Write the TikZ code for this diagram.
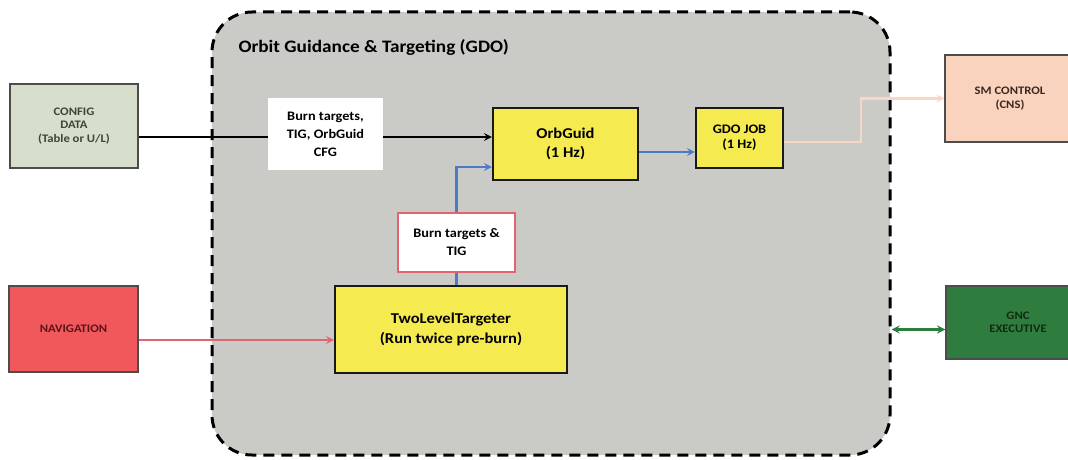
\documentclass[tikz,border=0pt]{standalone}
\usepackage{fontspec}
\setmainfont{Carlito}[FakeStretch=1.1]
\definecolor{gdogray}{RGB}{202,202,198}
\definecolor{jobyellow}{RGB}{245,234,80}
\definecolor{cfggreen}{RGB}{216,222,204}
\definecolor{navred}{RGB}{240,88,92}
\definecolor{navline}{RGB}{226,100,115}
\definecolor{smpeach}{RGB}{249,211,190}
\definecolor{smline}{RGB}{250,214,196}
\definecolor{gncgreen}{RGB}{46,125,62}
\definecolor{flowblue}{RGB}{80,120,200}
\begin{document}
\begin{tikzpicture}[x=1pt,y=-1pt,
  box/.style={draw=black!85, line width=1.8pt, align=center, font=\bfseries, inner sep=2pt},
  outbox/.style={box, draw=black!70, line width=1.5pt, font=\bfseries\fontsize{11.5}{13.5}\selectfont},
  jobbox/.style={box, fill=jobyellow, draw=black!90, line width=2.2pt},
  lblbox/.style={fill=white, align=center, font=\bfseries\fontsize{13}{18}\selectfont, inner sep=2pt},
  flow/.style={-stealth, line width=2.4pt}]
  \useasboundingbox (0,0) rectangle (1068,460);
  \clip (0,0) rectangle (1068,460);

  % GDO frame
  \node[draw, fill=gdogray, dashed, dash pattern=on 11pt off 7pt, line width=3pt,
        rounded corners=40pt, minimum width=678pt, minimum height=443pt] (gdo) at (551,233.5) {};
  \node[anchor=west, font=\bfseries\fontsize{17.5}{20}\selectfont] (title) at (235,47) {Orbit Guidance \& Targeting (GDO)};

  % outside blocks
  \node[outbox, fill=cfggreen, text={rgb,255:red,60;green,70;blue,50}, minimum width=128pt, minimum height=84pt] (config) at (74,126) {CONFIG\\DATA\\(Table or U/L)};
  \node[outbox, fill=navred, text={rgb,255:red,90;green,20;blue,25}, minimum width=129pt, minimum height=86pt] (nav) at (73.5,329) {NAVIGATION};
  \node[outbox, fill=smpeach, text={rgb,255:red,60;green,40;blue,30}, minimum width=130pt, minimum height=87pt] (smctrl) at (1010,98.5) {SM CONTROL\\(CNS)};
  \node[outbox, fill=gncgreen, text={rgb,255:red,20;green,40;blue,20}, minimum width=144pt, minimum height=73pt] (gnc) at (1018,322.5) {GNC\\EXECUTIVE};

  % jobs inside GDO
  \node[jobbox, font=\bfseries\fontsize{15}{19}\selectfont, minimum width=145pt, minimum height=72pt] (orbguid) at (565.5,144) {OrbGuid\\(1 Hz)};
  \node[jobbox, font=\bfseries\fontsize{13}{15}\selectfont, minimum width=87pt, minimum height=60pt] (gdojob) at (739.5,138) {GDO JOB\\(1 Hz)};
  \node[jobbox, font=\bfseries\fontsize{15}{20}\selectfont, minimum width=232pt, minimum height=87pt] (twolevel) at (451,329.5) {TwoLevelTargeter\\(Run twice pre-burn)};

  % connectors
  \draw[flow] ([yshift=-11pt]config.east) -- ([yshift=-11pt]config.east -| orbguid.west);
  \draw[flow, navline] ([yshift=-11pt]nav.east) -- ([yshift=-11pt]nav.east -| twolevel.west);
  \draw[flow, flowblue] (twolevel.north -| 456.5,0) |- ([yshift=-23pt]orbguid.west);
  \draw[flow, flowblue] ([yshift=-8pt]orbguid.east) -- ([yshift=-8pt]orbguid.east -| gdojob.west);
  \draw[flow, smline] ([yshift=-4pt]gdojob.east) -- ++(77,0) |- (smctrl.west);
  \draw[stealth-stealth, line width=2.6pt, gncgreen] ([yshift=-7pt]gnc.west) -- ([yshift=-7pt]gnc.west -| gdo.east);

  % data labels
  \node[lblbox, minimum width=115pt, minimum height=72pt] (cfglbl) at (325.5,134) {Burn targets,\\TIG, OrbGuid\\CFG};
  \node[lblbox, draw={rgb,255:red,225;green,100;blue,110}, line width=1.5pt, minimum width=117pt, minimum height=59pt] (tiglbl) at (456.5,242.5) {Burn targets \&\\TIG};
\end{tikzpicture}
\end{document}
